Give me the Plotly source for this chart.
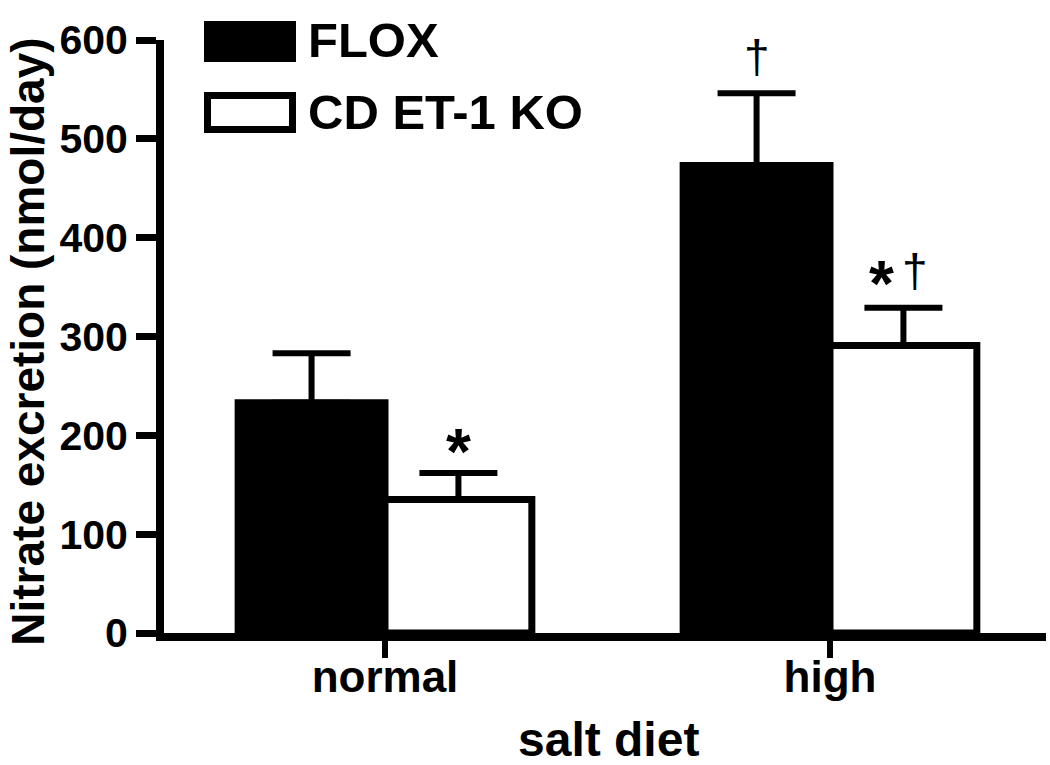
import plotly.graph_objects as go

# ---------------- data ----------------
categories = ["normal", "high"]
flox_mean = [233, 473]
flox_sem = [50, 73]
ko_mean = [135, 291]
ko_sem = [27, 38]
y_tick_vals = [0, 100, 200, 300, 400, 500, 600]
series_names = ["FLOX", "CD ET-1 KO"]

# ---------------- layout geometry (pixels) ----------------
W, H = 1050, 765
L, R, T, B = 164, 1046, 40, 633.5
FONT = "Liberation Sans, Arial, Helvetica, sans-serif"


def px2x(px):
    return (px - L) / (R - L)


def py2y(py):
    return (B - py) / (B - T)


bargap = 0.34
half_off = (1 - bargap) / 4

fig = go.Figure()
fig.add_bar(
    x=categories, y=flox_mean, name=series_names[0],
    marker=dict(color="black", line=dict(color="black", width=7)),
    error_y=dict(type="data", array=flox_sem, arrayminus=[0, 0], symmetric=False,
                 color="black", thickness=6, width=39),
)
fig.add_bar(
    x=categories, y=ko_mean, name=series_names[1],
    marker=dict(color="white", line=dict(color="black", width=7)),
    error_y=dict(type="data", array=ko_sem, arrayminus=[0, 0], symmetric=False,
                 color="black", thickness=6, width=39),
)

annotations = []
# significance marks
annotations.append(dict(x=0 + half_off, y=ko_mean[0] + ko_sem[0], xref="x", yref="y",
                        text="<b>*</b>", showarrow=False, yanchor="middle", yshift=21,
                        font=dict(family=FONT, size=64, color="black")))
annotations.append(dict(x=1 - half_off, y=flox_mean[1] + flox_sem[1], xref="x", yref="y",
                        text="†", showarrow=False, yanchor="middle", yshift=36,
                        font=dict(family=FONT, size=46, color="black")))
annotations.append(dict(x=1 + half_off, y=ko_mean[1] + ko_sem[1], xref="x", yref="y",
                        text="<b>*</b>", showarrow=False, yanchor="middle", yshift=24,
                        xshift=-22, font=dict(family=FONT, size=64, color="black")))
annotations.append(dict(x=1 + half_off, y=ko_mean[1] + ko_sem[1], xref="x", yref="y",
                        text="†", showarrow=False, yanchor="middle", yshift=37,
                        xshift=12, font=dict(family=FONT, size=46, color="black")))

# legend text
annotations.append(dict(x=px2x(306), y=py2y(40), xref="paper", yref="paper",
                        text="<b>FLOX</b>", showarrow=False, xanchor="left", yanchor="middle",
                        font=dict(family=FONT, size=49, color="black")))
annotations.append(dict(x=px2x(306), y=py2y(112), xref="paper", yref="paper",
                        text="<b>CD ET-1 KO</b>", showarrow=False, xanchor="left", yanchor="middle",
                        font=dict(family=FONT, size=49, color="black")))
# axis titles
annotations.append(dict(x=px2x(28), y=py2y(342), xref="paper", yref="paper",
                        text="<b>Nitrate excretion (nmol/day)</b>", showarrow=False,
                        textangle=-90, xanchor="center", yanchor="middle",
                        font=dict(family=FONT, size=46, color="black")))
annotations.append(dict(x=px2x(608), y=py2y(740), xref="paper", yref="paper",
                        text="<b>salt diet</b>", showarrow=False,
                        xanchor="center", yanchor="middle",
                        font=dict(family=FONT, size=48, color="black")))

shapes = [
    dict(type="rect", xref="paper", yref="paper",
         x0=px2x(204), x1=px2x(296), y0=py2y(62), y1=py2y(21),
         fillcolor="black", line=dict(width=0)),
    dict(type="rect", xref="paper", yref="paper",
         x0=px2x(207.5), x1=px2x(292.5), y0=py2y(129.5), y1=py2y(95.5),
         fillcolor="white", line=dict(color="black", width=7)),
]

fig.update_layout(
    width=W, height=H,
    margin=dict(l=L, r=W - R, t=T, b=H - B, pad=0),
    paper_bgcolor="white", plot_bgcolor="white",
    barmode="group", bargap=bargap, bargroupgap=0,
    showlegend=False,
    annotations=annotations, shapes=shapes,
    font=dict(family=FONT, color="black"),
)
fig.update_xaxes(
    type="category", range=[-0.4966, 1.4854],
    showline=True, linecolor="black", linewidth=8,
    ticks="outside", ticklen=17, tickwidth=6, tickcolor="black",
    tickfont=dict(family=FONT, size=44, color="black", weight="bold"),
    ticklabelstandoff=-19,
    showgrid=False, zeroline=False,
)
fig.update_yaxes(
    range=[0, 600], tickvals=y_tick_vals,
    showline=True, linecolor="black", linewidth=8,
    ticks="outside", ticklen=20, tickwidth=7, tickcolor="black",
    tickfont=dict(family=FONT, size=41, color="black", weight="bold"),
    showgrid=False, zeroline=False,
)

fig.write_html("out.html", config={"displayModeBar": False},
               post_script="document.body.style.margin='0';")
